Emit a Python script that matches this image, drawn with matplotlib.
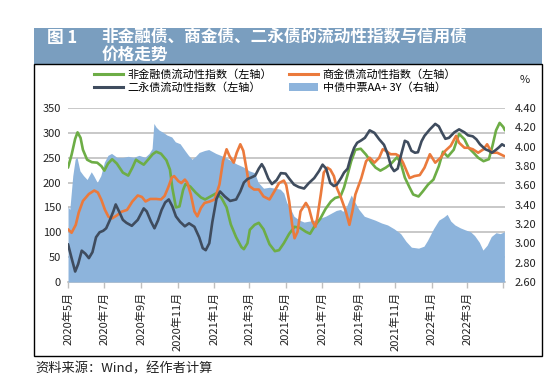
import matplotlib

matplotlib.use("Agg")
import matplotlib.pyplot as plt
import pandas as pd
from matplotlib.lines import Line2D
from matplotlib.patches import Patch, Rectangle

plt.rcParams["font.family"] = ["Noto Sans CJK SC", "DejaVu Sans"]

TITLE_NO = "图 1"
TITLE_LINE_1 = "非金融债、商金债、二永债的流动性指数与信用债"
TITLE_LINE_2 = "价格走势"
SOURCE = "资料来源：Wind，经作者计算"
LABEL_NONFIN = "非金融债流动性指数（左轴）"
LABEL_COMM = "商金债流动性指数（左轴）"
LABEL_PERP = "二永债流动性指数（左轴）"
LABEL_RATE = "中债中票AA+ 3Y（右轴）"

# 非金融债流动性指数
nonfin_dates = [
    "2020-05-01", "2020-05-07", "2020-05-13", "2020-05-17", "2020-05-22", "2020-05-26",
    "2020-06-02", "2020-06-10", "2020-06-19", "2020-06-26", "2020-07-01", "2020-07-07",
    "2020-07-14", "2020-07-22", "2020-08-01", "2020-08-10", "2020-08-17", "2020-08-23",
    "2020-08-29", "2020-09-05", "2020-09-13", "2020-09-20", "2020-09-26", "2020-10-04",
    "2020-10-13", "2020-10-19", "2020-10-23", "2020-10-29", "2020-11-04", "2020-11-10",
    "2020-11-14", "2020-11-22", "2020-12-01", "2020-12-10", "2020-12-17", "2020-12-26",
    "2021-01-04", "2021-01-13", "2021-01-22", "2021-01-29", "2021-02-07", "2021-02-16",
    "2021-02-20", "2021-02-26", "2021-03-02", "2021-03-10", "2021-03-17", "2021-03-25",
    "2021-04-04", "2021-04-13", "2021-04-20", "2021-04-28", "2021-05-07", "2021-05-16",
    "2021-05-25", "2021-06-04", "2021-06-11", "2021-06-19", "2021-06-28", "2021-07-07",
    "2021-07-16", "2021-07-23", "2021-08-01", "2021-08-07", "2021-08-13", "2021-08-19",
    "2021-08-26", "2021-09-04", "2021-09-13", "2021-09-22", "2021-09-29", "2021-10-07",
    "2021-10-16", "2021-10-25", "2021-11-04", "2021-11-10", "2021-11-17", "2021-11-25",
    "2021-12-01", "2021-12-10", "2021-12-17", "2021-12-26", "2022-01-04", "2022-01-13",
    "2022-01-20", "2022-01-28", "2022-02-07", "2022-02-16", "2022-02-25", "2022-03-04",
    "2022-03-13", "2022-03-20", "2022-03-29", "2022-04-07", "2022-04-13", "2022-04-19",
    "2022-04-25", "2022-05-01", "2022-05-04",
]
nonfin_values = [
    230, 256, 288, 301, 290, 266,
    246, 241, 240, 233, 224, 238,
    247, 238, 220, 214, 230, 246,
    241, 236, 247, 257, 262, 258,
    245, 226, 189, 150, 152, 185,
    197, 192, 180, 170, 166, 172,
    178, 170, 150, 116, 90, 70,
    66, 78, 105, 115, 119, 106,
    76, 62, 64, 78, 97, 111,
    109, 101, 97, 113, 127, 147,
    162, 169, 172, 190, 216, 243,
    266, 268, 256, 240, 230, 224,
    230, 238, 251, 240, 210, 190,
    176, 172, 182, 196, 206, 233,
    262, 252, 266, 298, 287, 270,
    259, 250, 243, 247, 274, 305,
    320, 312, 305,
]

# 商金债流动性指数
comm_dates = [
    "2020-05-01", "2020-05-07", "2020-05-14", "2020-05-19", "2020-05-26", "2020-06-05",
    "2020-06-14", "2020-06-20", "2020-06-26", "2020-07-02", "2020-07-08", "2020-07-14",
    "2020-07-22", "2020-07-29", "2020-08-08", "2020-08-17", "2020-08-26", "2020-09-02",
    "2020-09-08", "2020-09-16", "2020-09-26", "2020-10-04", "2020-10-10", "2020-10-16",
    "2020-10-22", "2020-10-26", "2020-11-02", "2020-11-07", "2020-11-13", "2020-11-17",
    "2020-11-23", "2020-11-29", "2020-12-04", "2020-12-10", "2020-12-16", "2020-12-25",
    "2021-01-02", "2021-01-10", "2021-01-16", "2021-01-22", "2021-01-27", "2021-02-03",
    "2021-02-08", "2021-02-14", "2021-02-19", "2021-02-25", "2021-03-01", "2021-03-09",
    "2021-03-17", "2021-03-25", "2021-04-04", "2021-04-12", "2021-04-20", "2021-04-28",
    "2021-05-02", "2021-05-07", "2021-05-12", "2021-05-16", "2021-05-21", "2021-05-26",
    "2021-06-04", "2021-06-09", "2021-06-15", "2021-06-20", "2021-06-23", "2021-06-29",
    "2021-07-04", "2021-07-10", "2021-07-15", "2021-07-21", "2021-07-26", "2021-08-02",
    "2021-08-10", "2021-08-16", "2021-08-21", "2021-08-26", "2021-09-05", "2021-09-13",
    "2021-09-19", "2021-09-27", "2021-10-05", "2021-10-11", "2021-10-16", "2021-10-24",
    "2021-11-02", "2021-11-08", "2021-11-14", "2021-11-20", "2021-11-25", "2021-12-03",
    "2021-12-12", "2021-12-20", "2021-12-29", "2022-01-07", "2022-01-16", "2022-01-24",
    "2022-02-02", "2022-02-11", "2022-02-16", "2022-02-25", "2022-03-03", "2022-03-11",
    "2022-03-20", "2022-03-29", "2022-04-04", "2022-04-12", "2022-04-21", "2022-05-03",
]
comm_values = [
    106, 99, 115, 140, 163, 177,
    184, 180, 165, 145, 131, 128,
    134, 141, 145, 162, 174, 171,
    162, 167, 167, 166, 173, 190,
    210, 213, 203, 199, 206, 200,
    176, 142, 132, 149, 159, 162,
    166, 196, 243, 267, 253, 240,
    260, 277, 264, 223, 193, 186,
    186, 172, 166, 182, 199, 204,
    195, 162, 115, 88, 101, 142,
    159, 149, 122, 111, 128, 176,
    220, 230, 226, 213, 189, 169,
    142, 115, 142, 176, 209, 243,
    250, 240, 250, 267, 264, 257,
    257, 253, 240, 223, 209, 213,
    215, 230, 257, 240, 250, 264,
    274, 294, 280, 270, 270, 267,
    260, 267, 277, 260, 260, 253,
]

# 二永债流动性指数
perp_dates = [
    "2020-05-01", "2020-05-07", "2020-05-13", "2020-05-18", "2020-05-24", "2020-05-30",
    "2020-06-05", "2020-06-11", "2020-06-17", "2020-06-23", "2020-06-29", "2020-07-04",
    "2020-07-10", "2020-07-16", "2020-07-20", "2020-07-26", "2020-08-01", "2020-08-07",
    "2020-08-16", "2020-08-26", "2020-09-05", "2020-09-10", "2020-09-17", "2020-09-23",
    "2020-09-29", "2020-10-05", "2020-10-11", "2020-10-17", "2020-10-23", "2020-10-29",
    "2020-11-05", "2020-11-13", "2020-11-20", "2020-11-29", "2020-12-07", "2020-12-13",
    "2020-12-18", "2020-12-24", "2020-12-29", "2021-01-05", "2021-01-11", "2021-01-19",
    "2021-01-28", "2021-02-07", "2021-02-14", "2021-02-20", "2021-02-26", "2021-03-04",
    "2021-03-11", "2021-03-17", "2021-03-22", "2021-03-26", "2021-04-02", "2021-04-08",
    "2021-04-16", "2021-04-23", "2021-05-01", "2021-05-07", "2021-05-15", "2021-05-23",
    "2021-06-01", "2021-06-09", "2021-06-18", "2021-06-26", "2021-07-02", "2021-07-08",
    "2021-07-15", "2021-07-21", "2021-07-26", "2021-08-02", "2021-08-07", "2021-08-13",
    "2021-08-18", "2021-08-24", "2021-08-29", "2021-09-05", "2021-09-11", "2021-09-19",
    "2021-09-27", "2021-10-05", "2021-10-13", "2021-10-19", "2021-10-25", "2021-10-30",
    "2021-11-05", "2021-11-11", "2021-11-17", "2021-11-22", "2021-11-28", "2021-12-04",
    "2021-12-09", "2021-12-15", "2021-12-20", "2021-12-29", "2022-01-07", "2022-01-13",
    "2022-01-18", "2022-01-24", "2022-01-30", "2022-02-08", "2022-02-16", "2022-02-25",
    "2022-03-03", "2022-03-11", "2022-03-17", "2022-03-23", "2022-04-01", "2022-04-07",
    "2022-04-12", "2022-04-18", "2022-04-24", "2022-04-29", "2022-05-03",
]
perp_values = [
    76, 48, 21, 36, 63, 57,
    48, 60, 90, 100, 103, 108,
    124, 142, 156, 141, 125, 119,
    113, 125, 148, 142, 122, 108,
    124, 145, 160, 166, 152, 132,
    121, 112, 118, 111, 90, 68,
    64, 78, 120, 167, 182, 172,
    163, 166, 182, 200, 207, 210,
    214, 228, 237, 229, 208, 197,
    205, 219, 218, 208, 196, 191,
    188, 199, 209, 223, 236, 228,
    199, 193, 196, 209, 220, 228,
    250, 270, 280, 285, 290, 305,
    300, 287, 276, 258, 232, 223,
    228, 257, 284, 281, 264, 260,
    261, 283, 294, 307, 318, 313,
    301, 288, 290, 301, 307, 301,
    295, 293, 287, 277, 267, 264,
    260, 265, 271, 277, 274,
]

# 中债中票AA+ 3Y 收益率（%）
rate_dates = [
    "2020-05-01", "2020-05-04", "2020-05-09", "2020-05-13", "2020-05-16", "2020-05-21",
    "2020-05-27", "2020-06-02", "2020-06-09", "2020-06-13", "2020-06-19", "2020-06-25",
    "2020-07-01", "2020-07-07", "2020-07-13", "2020-07-22", "2020-08-01", "2020-08-10",
    "2020-08-19", "2020-08-28", "2020-09-07", "2020-09-14", "2020-09-19", "2020-09-22",
    "2020-09-26", "2020-10-01", "2020-10-07", "2020-10-14", "2020-10-22", "2020-10-28",
    "2020-11-05", "2020-11-13", "2020-11-19", "2020-11-25", "2020-12-01", "2020-12-07",
    "2020-12-16", "2020-12-23", "2021-01-04", "2021-01-16", "2021-01-28", "2021-02-08",
    "2021-02-19", "2021-03-01", "2021-03-10", "2021-03-16", "2021-03-25", "2021-04-04",
    "2021-04-13", "2021-04-22", "2021-04-28", "2021-05-03", "2021-05-09", "2021-05-15",
    "2021-05-24", "2021-06-01", "2021-06-10", "2021-06-19", "2021-06-28", "2021-07-07",
    "2021-07-16", "2021-07-25", "2021-08-01", "2021-08-05", "2021-08-11", "2021-08-19",
    "2021-08-24", "2021-09-01", "2021-09-10", "2021-09-19", "2021-09-28", "2021-10-09",
    "2021-10-19", "2021-10-30", "2021-11-10", "2021-11-19", "2021-11-28", "2021-12-10",
    "2021-12-19", "2021-12-25", "2022-01-04", "2022-01-13", "2022-01-21", "2022-01-27",
    "2022-02-02", "2022-02-09", "2022-02-18", "2022-02-26", "2022-03-07", "2022-03-14",
    "2022-03-22", "2022-03-28", "2022-04-04", "2022-04-11", "2022-04-19", "2022-04-26",
    "2022-05-03",
]
rate_values = [
    3.38, 3.35, 3.70, 3.87, 3.89, 3.75,
    3.70, 3.66, 3.74, 3.70, 3.63, 3.70,
    3.84, 3.91, 3.93, 3.89, 3.89, 3.90,
    3.89, 3.91, 3.89, 3.93, 3.98, 4.24,
    4.20, 4.17, 4.15, 4.12, 4.10, 4.05,
    4.03, 3.96, 3.91, 3.87, 3.90, 3.94,
    3.96, 3.97, 3.93, 3.90, 3.86, 3.82,
    3.79, 3.75, 3.73, 3.63, 3.57, 3.58,
    3.57, 3.56, 3.52, 3.42, 3.36, 3.28,
    3.24, 3.22, 3.23, 3.24, 3.26, 3.28,
    3.31, 3.34, 3.35, 3.33, 3.38, 3.50,
    3.44, 3.35, 3.28, 3.26, 3.24, 3.21,
    3.19, 3.15, 3.10, 3.02, 2.96, 2.95,
    2.97, 3.03, 3.15, 3.24, 3.27, 3.30,
    3.23, 3.19, 3.16, 3.14, 3.12, 3.08,
    3.01, 2.93, 2.98, 3.07, 3.11, 3.10,
    3.12,
]

left_ticks = [0, 50, 100, 150, 200, 250, 300, 350]
right_ticks = [2.60, 2.80, 3.00, 3.20, 3.40, 3.60, 3.80, 4.00, 4.20, 4.40]
tick_months = pd.date_range("2020-05-01", "2022-05-01", freq="2MS")

GREEN = "#6dad46"
ORANGE = "#eb7a3c"
NAVY = "#3f4c5e"
AREA = "#8db4dc"
BAR = "#7a9ebf"
GRID = "#c4c4c4"


def to_dates(values):
    return pd.to_datetime(values)


fig = plt.figure(figsize=(5.58, 3.89), dpi=100)

# header bar, outer frame, source line
fig.patches.append(Rectangle((0.061, 0.8355), 0.910, 0.0925, transform=fig.transFigure,
                             facecolor=BAR, edgecolor="none", zorder=0))
fig.patches.append(Rectangle((0.061, 0.085), 0.910, 0.7505, transform=fig.transFigure,
                             facecolor="none", edgecolor="black", linewidth=1.0, zorder=5))
fig.text(0.084, 0.903, TITLE_NO, color="white", fontsize=12, fontweight="bold",
         va="center", ha="left")
fig.text(0.182, 0.903, TITLE_LINE_1, color="white", fontsize=12, fontweight="bold",
         va="center", ha="left")
fig.text(0.182, 0.858, TITLE_LINE_2, color="white", fontsize=12, fontweight="bold",
         va="center", ha="left")
fig.text(0.064, 0.052, SOURCE, fontsize=9.5, color="#222222", va="center", ha="left")

rect = [0.1219, 0.2751, 0.7831, 0.4473]
ax = fig.add_axes(rect)
ax_rate = ax.twinx()
ax_lines = fig.add_axes(rect, sharex=ax, sharey=ax)
ax.set_zorder(1)
ax_rate.set_zorder(2)
ax_lines.set_zorder(3)
ax_rate.patch.set_visible(False)
ax_lines.patch.set_visible(False)

# grid on the left-axis scale, behind the area
ax.set_ylim(0, 350)
ax.set_yticks(left_ticks)
ax.grid(axis="y", color=GRID, linewidth=1.3)
ax.grid(axis="x", visible=False)
for side in ("left", "right", "top"):
    ax.spines[side].set_visible(False)
ax.spines["bottom"].set_color("#bfbfbf")
ax.spines["bottom"].set_linewidth(1.2)
ax.tick_params(axis="y", length=0, labelsize=8, pad=5, labelcolor="#222222")
ax.tick_params(axis="x", length=4, color="#bfbfbf", width=1, labelsize=8,
               labelcolor="#222222", pad=3)
ax.set_xticks(tick_months)
ax.set_xticklabels([f"{d.year}年{d.month}月" if i < len(tick_months) - 1 else ""
                    for i, d in enumerate(tick_months)], rotation=90)
ax.set_xlim(pd.Timestamp("2020-05-01"), pd.Timestamp("2022-05-04"))

# bond yield area on the right axis
rate_x = to_dates(rate_dates)
ax_rate.fill_between(rate_x, rate_values, 2.6, color=AREA, linewidth=0)
ax_rate.set_ylim(2.6, 4.4)
ax_rate.set_yticks(right_ticks)
ax_rate.set_yticklabels([f"{t:.2f}" for t in right_ticks])
ax_rate.tick_params(axis="y", length=0, labelsize=8, pad=7, labelcolor="#222222")
for side in ax_rate.spines:
    ax_rate.spines[side].set_visible(False)
ax_rate.text(1.045, 1.16, "%", transform=ax_rate.transAxes, fontsize=8,
             ha="center", va="center", color="#222222")

# liquidity index lines on the left-axis scale
ax_lines.plot(to_dates(nonfin_dates), nonfin_values, color=GREEN, linewidth=1.9,
              solid_joinstyle="round", solid_capstyle="round")
ax_lines.plot(to_dates(comm_dates), comm_values, color=ORANGE, linewidth=1.9,
              solid_joinstyle="round", solid_capstyle="round")
ax_lines.plot(to_dates(perp_dates), perp_values, color=NAVY, linewidth=1.9,
              solid_joinstyle="round", solid_capstyle="round")
ax_lines.axis("off")

handles = [
    Line2D([], [], color=GREEN, linewidth=2.2),
    Line2D([], [], color=NAVY, linewidth=2.2),
    Line2D([], [], color=ORANGE, linewidth=2.2),
    Patch(facecolor=AREA, edgecolor="none"),
]
labels = [LABEL_NONFIN, LABEL_PERP, LABEL_COMM, LABEL_RATE]
fig.legend(handles, labels, ncol=2, loc="upper left", bbox_to_anchor=(0.168, 0.823),
           frameon=False, fontsize=8, handlelength=2.6, handletextpad=0.4,
           columnspacing=1.6, labelspacing=0.25, borderpad=0, borderaxespad=0)

fig.savefig("out.png", dpi=100)
